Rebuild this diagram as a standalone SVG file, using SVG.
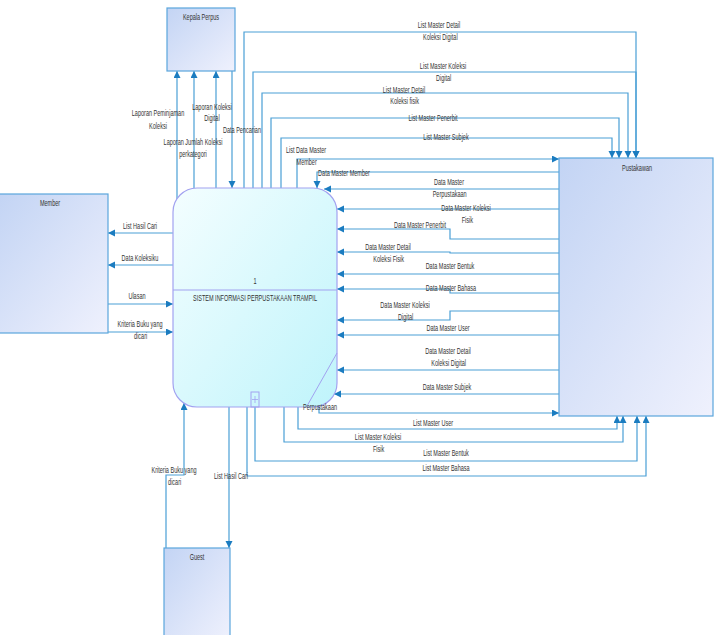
<svg xmlns="http://www.w3.org/2000/svg" width="714" height="635" viewBox="0 0 714 635">
<defs>
<linearGradient id="gEnt" x1="0" y1="0" x2="1" y2="1">
<stop offset="0" stop-color="#c3d4f4"/>
<stop offset="1" stop-color="#eff1fd"/>
</linearGradient>
<linearGradient id="gProc" x1="0" y1="0" x2="1" y2="1">
<stop offset="0" stop-color="#f4feff"/>
<stop offset="1" stop-color="#bff4fb"/>
</linearGradient>
<marker id="ah" markerUnits="userSpaceOnUse" markerWidth="8" markerHeight="8" refX="7" refY="3.5" orient="auto">
<path d="M0,0 L7,3.5 L0,7 Z" fill="#1b7cc0"/>
</marker>
<style>
.ent{fill:url(#gEnt);stroke:#5aa6dc;stroke-width:1.2}
.proc{fill:url(#gProc);stroke:#a2a2f0;stroke-width:1.2}
.c{fill:none;stroke:#4a9fd6;stroke-width:1.2;marker-end:url(#ah)}
.cn{fill:none;stroke:#4a9fd6;stroke-width:1.2}
.t{font-family:"Liberation Sans",Arial,sans-serif;font-size:8.5px;fill:#333;text-anchor:middle}
</style>
</defs>
<rect width="714" height="635" fill="#fff"/>

<g id="connectors">
<path class="c" d="M177,199 V71"/>
<path class="c" d="M194,188 V71"/>
<path class="c" d="M216,188 V71"/>
<path class="c" d="M232,71 V188"/>
<path class="c" d="M244,188 V32 H636 V158"/>
<path class="c" d="M253,188 V72 H636 V158"/>
<path class="c" d="M262,188 V93 H628 V158"/>
<path class="c" d="M271,188 V118 H619 V158"/>
<path class="c" d="M281,188 V138 H612 V158"/>
<path class="c" d="M297,188 V159 H559"/>
<path class="c" d="M559,172 H317 V188"/>
<path class="c" d="M559,189 H324"/>
<path class="c" d="M559,209 H337"/>
<path class="c" d="M559,239 H450 V229 H337"/>
<path class="c" d="M559,253 H450 V252 H337"/>
<path class="c" d="M559,274 H337"/>
<path class="c" d="M559,293 H450 V289 H337"/>
<path class="c" d="M559,311 H450 V320 H337"/>
<path class="c" d="M559,335 H337"/>
<path class="c" d="M559,370 H337"/>
<path class="c" d="M559,394 H334"/>
<path class="c" d="M319,406 V413 H559"/>
<path class="c" d="M298,407 V429 H617 V416"/>
<path class="c" d="M284,407 V442 H623 V416"/>
<path class="c" d="M255,407 V461 H637 V416"/>
<path class="c" d="M247,407 V476 H646 V416"/>
<path class="c" d="M229,407 V548"/>
<path class="c" d="M166,548 V475 H184 V403"/>
<path class="c" d="M173,233 H108"/>
<path class="c" d="M173,265 H108"/>
<path class="c" d="M108,304 H173"/>
<path class="c" d="M108,332 H173"/>
</g>

<g id="kepala-perpus">
<rect class="ent" x="167" y="8" width="68" height="63"/>
<text class="t" transform="translate(201,20) scale(.65,1)">Kepala Perpus</text>
</g>

<g id="pustakawan">
<rect class="ent" x="559" y="158" width="154" height="258"/>
<text class="t" transform="translate(637,171) scale(.65,1)">Pustakawan</text>
</g>

<g id="member">
<rect class="ent" x="-1" y="194" width="109" height="139"/>
<text class="t" transform="translate(50,206) scale(.65,1)">Member</text>
</g>

<g id="guest">
<rect class="ent" x="164" y="548" width="66" height="92"/>
<text class="t" transform="translate(197,560) scale(.65,1)">Guest</text>
</g>

<g id="process-1">
<rect class="proc" x="173" y="188" width="164" height="219" rx="24" ry="24"/>
<line x1="173" y1="290" x2="337" y2="290" stroke="#a2a2f0" stroke-width="1.2"/>
<line x1="337" y1="353" x2="307" y2="406" stroke="#a2a2f0" stroke-width="1"/>
<rect x="251" y="392" width="8" height="15" fill="none" stroke="#a2a2f0" stroke-width="1"/>
<path d="M255,396 V403 M252,399.5 H258" stroke="#a2a2f0" stroke-width="0.8" fill="none"/>
<text class="t" transform="translate(255,284) scale(.65,1)">1</text>
<text class="t" transform="translate(255,301) scale(.65,1)">SISTEM INFORMASI PERPUSTAKAAN TRAMPIL</text>
</g>

<g id="labels">
<text class="t" transform="translate(158,116) scale(.65,1)"><tspan x="0">Laporan Peminjaman</tspan><tspan x="0" dy="13">Koleksi</tspan></text>
<text class="t" transform="translate(212,110) scale(.65,1)"><tspan x="0">Laporan Koleksi</tspan><tspan x="0" dy="11">Digital</tspan></text>
<text class="t" transform="translate(193,145) scale(.65,1)"><tspan x="0">Laporan Jumlah Koleksi</tspan><tspan x="0" dy="12">perkategori</tspan></text>
<text class="t" transform="translate(242,133) scale(.65,1)">Data Pencarian</text>
<text class="t" transform="translate(306,153) scale(.65,1)"><tspan x="0">List Data Master</tspan><tspan x="1" dy="12">Member</tspan></text>
<text class="t" transform="translate(344,176) scale(.65,1)">Data Master Member</text>
<text class="t" transform="translate(439,28) scale(.65,1)"><tspan x="0">List Master Detail</tspan><tspan x="2" dy="12">Koleksi Digital</tspan></text>
<text class="t" transform="translate(443,69) scale(.65,1)"><tspan x="0">List Master Koleksi</tspan><tspan x="1" dy="12">Digital</tspan></text>
<text class="t" transform="translate(404,93) scale(.65,1)"><tspan x="0">List Master Detail</tspan><tspan x="1" dy="11">Koleksi fisik</tspan></text>
<text class="t" transform="translate(433,121) scale(.65,1)">List Master Penerbit</text>
<text class="t" transform="translate(446,140) scale(.65,1)">List Master Subjek</text>
<text class="t" transform="translate(449,185) scale(.65,1)"><tspan x="0">Data Master</tspan><tspan x="1" dy="12">Perpustakaan</tspan></text>
<text class="t" transform="translate(466,211) scale(.65,1)"><tspan x="0">Data Master Koleksi</tspan><tspan x="2" dy="12">Fisik</tspan></text>
<text class="t" transform="translate(420,228) scale(.65,1)">Data Master Penerbit</text>
<text class="t" transform="translate(388,250) scale(.65,1)"><tspan x="0">Data Master Detail</tspan><tspan x="1" dy="12">Koleksi Fisik</tspan></text>
<text class="t" transform="translate(450,269) scale(.65,1)">Data Master Bentuk</text>
<text class="t" transform="translate(451,291) scale(.65,1)">Data Master Bahasa</text>
<text class="t" transform="translate(405,308) scale(.65,1)"><tspan x="0">Data Master Koleksi</tspan><tspan x="1" dy="12">Digital</tspan></text>
<text class="t" transform="translate(448,331) scale(.65,1)">Data Master User</text>
<text class="t" transform="translate(448,354) scale(.65,1)"><tspan x="0">Data Master Detail</tspan><tspan x="1" dy="12">Koleksi Digital</tspan></text>
<text class="t" transform="translate(447,390) scale(.65,1)">Data Master Subjek</text>
<text class="t" transform="translate(320,410) scale(.65,1)">Perpustakaan</text>
<text class="t" transform="translate(433,426) scale(.65,1)">List Master User</text>
<text class="t" transform="translate(378,440) scale(.65,1)"><tspan x="0">List Master Koleksi</tspan><tspan x="1" dy="12">Fisik</tspan></text>
<text class="t" transform="translate(446,456) scale(.65,1)">List Master Bentuk</text>
<text class="t" transform="translate(446,471) scale(.65,1)">List Master Bahasa</text>
<text class="t" transform="translate(231,479) scale(.65,1)">List Hasil Cari</text>
<text class="t" transform="translate(174,473) scale(.65,1)"><tspan x="0">Kriteria Buku yang</tspan><tspan x="1" dy="12">dicari</tspan></text>
<text class="t" transform="translate(140,229) scale(.65,1)">List Hasil Cari</text>
<text class="t" transform="translate(140,261) scale(.65,1)">Data Koleksiku</text>
<text class="t" transform="translate(137,299) scale(.65,1)">Ulasan</text>
<text class="t" transform="translate(140,327) scale(.65,1)"><tspan x="0">Kriteria Buku yang</tspan><tspan x="1" dy="12">dicari</tspan></text>
</g>
</svg>
